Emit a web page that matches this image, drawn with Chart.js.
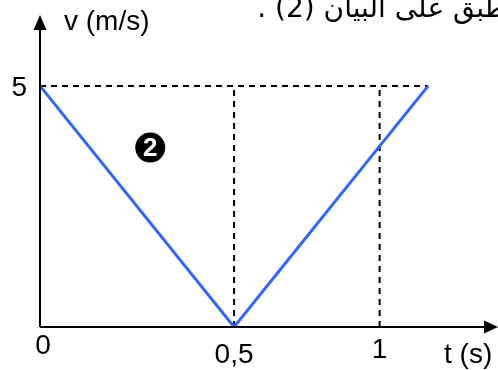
<!DOCTYPE html>
<html>
<head>
<meta charset="utf-8">
<script src="https://cdn.jsdelivr.net/npm/chart.js@4/dist/chart.umd.min.js"></script>
<style>
  html, body { margin: 0; padding: 0; background: #fff; }
  #wrap { width: 498px; height: 370px; position: relative; }
</style>
</head>
<body>
<div id="wrap"><canvas id="vt"></canvas></div>
<script>
// velocity graph (2)
const tValues = [0, 0.5, 1.0];
const vValues = [5, 0, 5];
const xTickValues = [0, 0.5, 0.875];
const xTickLabels = ['0', '0,5', '1'];
const yTickValues = [5];
const yTickLabels = ['5'];
const guideT = [0.5, 0.875];
const guideTop = 5;

const FONT = '"Liberation Sans", Arial, sans-serif';

const series = tValues.map((t, i) => ({ x: t, y: vValues[i] }));
const hGuide = [{ x: 0, y: guideTop }, { x: tValues[tValues.length - 1], y: guideTop }];
const vGuides = guideT.map(t => ({
  data: [{ x: t, y: 0 }, { x: t, y: guideTop }],
  borderColor: '#000', borderWidth: 2, borderDash: [6, 5], pointRadius: 0, order: 2
}));

const axesPlugin = {
  id: 'axes',
  afterDraw(chart) {
    const ctx = chart.ctx;
    const xs = chart.scales.x, ys = chart.scales.y;
    const x0 = xs.getPixelForValue(0), y0 = ys.getPixelForValue(0);
    const right = chart.width, top = chart.chartArea.top;
    ctx.save();
    ctx.strokeStyle = '#000';
    ctx.fillStyle = '#000';
    ctx.lineWidth = 2;
    // axes
    ctx.beginPath();
    ctx.moveTo(x0, y0); ctx.lineTo(right - 10, y0);
    ctx.moveTo(x0, y0); ctx.lineTo(x0, top + 10);
    ctx.stroke();
    // arrow heads
    ctx.beginPath();
    ctx.moveTo(right, y0); ctx.lineTo(right - 14, y0 - 6.5); ctx.lineTo(right - 14, y0 + 6.5);
    ctx.closePath(); ctx.fill();
    ctx.beginPath();
    ctx.moveTo(x0, top); ctx.lineTo(x0 - 6.5, top + 15); ctx.lineTo(x0 + 6.5, top + 15);
    ctx.closePath(); ctx.fill();

    // tick labels
    ctx.font = '28px ' + FONT;
    ctx.textAlign = 'center';
    ctx.textBaseline = 'alphabetic';
    const tickBase = { '0': 354, '0,5': 363, '1': 358 };
    xTickValues.forEach((t, i) => {
      ctx.fillText(xTickLabels[i], xs.getPixelForValue(t) + (i === 0 ? 3 : 0), tickBase[xTickLabels[i]]);
    });
    ctx.textAlign = 'right';
    yTickValues.forEach((v, i) => ctx.fillText(yTickLabels[i], x0 - 13, ys.getPixelForValue(v) + 10));

    // axis titles
    ctx.textAlign = 'left';
    ctx.fillText('v (m/s)', x0 + 24, top + 15);
    ctx.fillText('t (s)', 444, y0 + 36);

    // circled 2
    const cx = xs.getPixelForValue(0.284), cy = ys.getPixelForValue(3.72);
    ctx.beginPath(); ctx.arc(cx, cy, 15, 0, Math.PI * 2); ctx.fill();
    ctx.fillStyle = '#fff';
    ctx.font = 'bold 26px ' + FONT;
    ctx.textAlign = 'center'; ctx.textBaseline = 'middle';
    ctx.fillText('2', cx, cy + 1);

    // cut-off Arabic sentence at the top
    ctx.fillStyle = '#000';
    ctx.font = '28px "DejaVu Sans", sans-serif';
    ctx.direction = 'rtl';
    ctx.textAlign = 'right';
    ctx.textBaseline = 'alphabetic';
    ctx.fillText('ينطبق على البيان (2) .', 524, 17);
    ctx.restore();
  }
};

new Chart(document.getElementById('vt'), {
  type: 'line',
  data: {
    datasets: [
      { data: series, borderColor: '#3366ff', borderWidth: 3, pointRadius: 0, order: 0 },
      { data: hGuide, borderColor: '#000', borderWidth: 2, borderDash: [6, 5], pointRadius: 0, order: 2 },
      ...vGuides
    ]
  },
  options: {
    responsive: true,
    maintainAspectRatio: false,
    animation: false,
    layout: { padding: { left: 40, top: 15, right: 0, bottom: 43 } },
    plugins: { legend: { display: false }, tooltip: { enabled: false } },
    scales: {
      x: { type: 'linear', min: 0, max: 1.18, display: false },
      y: { type: 'linear', min: 0, max: 6.47, display: false }
    },
    elements: { line: { tension: 0 } }
  },
  plugins: [axesPlugin]
});
</script>
</body>
</html>
